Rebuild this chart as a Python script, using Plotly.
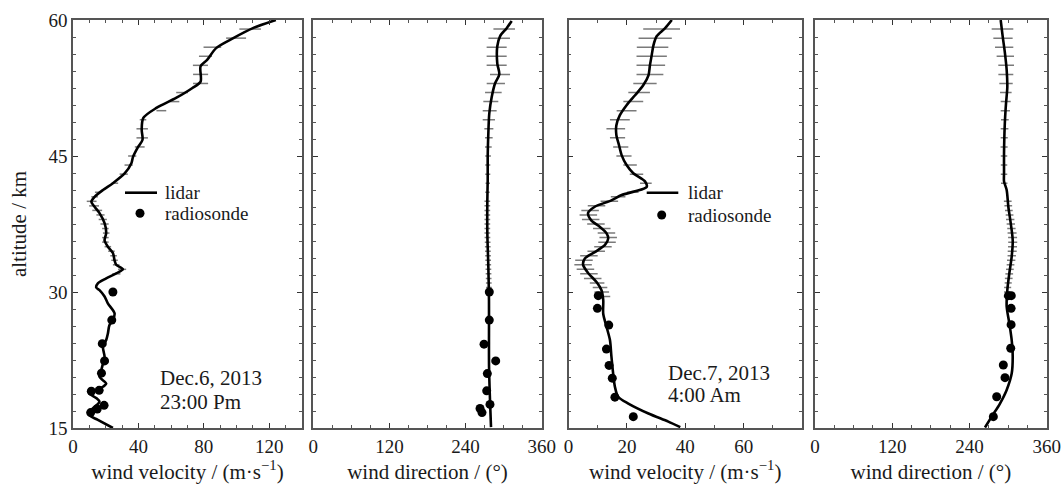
import plotly.graph_objects as go

# ---------------- Panel 1: wind velocity, Dec.6 2013 ----------------
p1_alt = [15.0, 15.9, 16.4, 17.0, 17.35, 17.9, 18.3, 18.8, 19.2, 19.55, 19.9, 20.65, 21.4, 22.1,
          22.85, 23.95, 24.7, 25.4, 26.35, 26.9, 27.65, 28.75, 29.5, 30.2, 30.5, 30.95, 31.5,
          32.05, 32.5, 33.0, 33.5, 34.3, 35.0, 35.7, 36.5, 37.6, 38.7, 39.4, 39.95, 40.5, 41.25,
          42.0, 43.1, 44.2, 44.9, 46.0, 46.8, 47.9, 49.2, 50.3, 51.4, 52.5, 53.2, 54.9, 55.6,
          56.9, 58.0, 59.1, 60.0]
p1_vel = [24.4, 15.2, 10.2, 11.2, 13.2, 16.2, 14.2, 10.2, 14.2, 18.3, 20.3, 16.2, 17.3, 18.3,
          19.3, 18.3, 20.3, 21.3, 22.3, 24.4, 25.4, 21.3, 19.3, 16.2, 14.2, 15.2, 20.3,
          26.4, 30.5, 26.4, 25.4, 24.4, 21.3, 19.3, 20.3, 19.3, 16.2, 13.2, 11.2, 13.2, 18.3,
          24.4, 31.7, 35.7, 36.7, 39.8, 42.5, 42.0, 43.0, 51.0, 63.0, 73.0, 78.0, 78.0, 82.0,
          87.5, 98.0, 110.0, 124.0]
p1_err_alt = [32.0, 32.5, 33.0, 33.5, 34.0, 34.5, 35.0, 35.5, 36.0, 36.5, 37.0, 37.5, 38.0, 38.5,
              39.0, 39.5, 40.0, 40.5, 41, 42, 43, 44, 45, 46, 47, 48, 49, 50, 51, 52, 53, 54,
              55, 56, 57, 58, 59]
p1_err_mid = [26.5, 30.0, 26.4, 25.4, 24.8, 23.5, 21.3, 19.8, 19.8, 20.3, 19.8, 19.3, 18.2, 16.8,
              14.8, 12.9, 11.4, 13.2, 14.9, 25.6, 31.0, 34.0, 36.2, 40.8, 42.3, 42.3, 42.8, 54.0,
              62.0, 66.7, 78.0, 78.0, 77.9, 81.0, 85.2, 99.7, 108.3]
p1_err_half = [2.5, 2.5, 2.0, 2.0, 2.0, 2.0, 2.0, 2.0, 2.0, 2.0, 2.0, 2.5, 2.5, 2.5,
               3.0, 3.0, 3.0, 2.0, 1.5, 2.0, 2.5, 2.5, 2.5, 3.0, 3.5, 3.5, 2.0, 3.0,
               3.0, 3.6, 4.6, 4.6, 4.6, 4.0, 5.4, 6.1, 6.6]
p1_rs_alt = [30.0, 26.9, 24.3, 22.4, 21.05, 19.05, 19.15, 17.5, 17.1, 16.7]
p1_rs_vel = [24.4, 23.7, 17.9, 19.3, 17.4, 11.2, 16.0, 19.0, 14.8, 10.8]

# ---------------- Panel 2: wind direction, Dec.6 2013 ----------------
p2_alt = [15.1, 18.1, 21.75, 25.4, 29.1, 32.8, 36.5, 40.1, 42.35, 44.9, 47.5, 49.7, 51.5, 53.0,
          54.0, 55.2, 57.1, 58.2, 59.1, 59.9]
p2_dir = [280.1, 278.5, 277.0, 276.9, 276.9, 275.9, 274.3, 274.3, 274.9, 274.9, 275.9, 277.4,
          281.2, 286.4, 293.2, 290.0, 290.0, 294.3, 304.8, 312.7]
p2_err_alt = [30.0, 30.5, 31.0, 31.5, 32.0, 32.5, 33.0, 33.5, 34.0, 34.5, 35.0, 35.5, 36.0, 36.5,
              37.0, 37.5, 38.0, 38.5, 39.0, 39.5, 40.0, 41, 42, 43, 44, 45, 46, 47, 48, 49, 50,
              51, 52, 53, 54, 55, 56, 57, 58, 59]
p2_err_mid = [276.9, 276.8, 276.6, 276.4, 276.2, 276.0, 275.8, 275.6, 275.4, 275.2, 275.0, 274.8,
              274.5, 274.3, 274.3, 274.3, 274.3, 274.3, 274.3, 274.3, 274.3, 274.5, 275.0, 275.0,
              275.0, 275.5, 275.9, 276.7, 276.7, 276.7, 278.0, 279.8, 283.8, 287.7, 294.3, 289.0,
              289.0, 289.0, 293.0, 300.9]
p2_err_half = [4.5, 4.5, 4.5, 4.5, 4.5, 4.5, 4.5, 4.5, 4.5, 4.5, 4.5, 4.5, 4.5, 4.5, 4.5, 4.5,
               4.5, 4.5, 4.5, 4.5, 4.5, 3.5, 3.5, 4.0, 4.0, 4.5, 5.3, 6.0, 7.1, 9.7, 11.0, 11.8,
               13.1, 14.4, 15.8, 15.8, 15.8, 15.8, 17.0, 17.0]
p2_rs_alt = [30.0, 26.9, 24.25, 22.4, 21.0, 19.1, 17.6, 17.15, 16.7]
p2_rs_dir = [277.4, 277.4, 269.1, 287.5, 274.3, 273.3, 278.5, 262.8, 265.9]

# ---------------- Panel 3: wind velocity, Dec.7 2013 ----------------
p3_alt = [15.1, 15.7, 16.6, 17.7, 18.45, 19.55, 21.0, 22.9, 24.7, 26.2, 27.6, 29.1, 30.2, 31.1,
          32.1, 33.0, 33.7, 34.4, 35.2, 35.9, 36.5, 37.2, 37.9, 38.7, 39.4, 40.1, 40.7, 41.1,
          41.6, 42.2, 43.1, 44.0, 45.1, 46.2, 47.3, 48.4, 49.5, 50.6, 51.7, 52.8, 53.9, 55.0,
          56.1, 57.2, 58.2, 59.1, 60.0]
p3_vel = [38.3, 34.2, 27.4, 20.5, 17.0, 15.9, 15.3, 14.7, 14.2, 13.0, 11.9, 11.9, 11.3, 9.6,
          6.7, 5.0, 5.6, 9.0, 12.5, 13.6, 13.0, 10.7, 7.8, 6.7, 9.0, 14.7, 18.2, 22.8,
          26.8, 26.2, 22.2, 19.9, 18.2, 17.3, 16.4, 16.4, 17.6, 19.9, 22.8, 25.6, 27.4, 27.9,
          28.5, 29.1, 30.2, 33.1, 35.4]
p3_err_alt = [29.5, 30.0, 30.5, 31.0, 31.5, 32.0, 32.5, 33.0, 33.5, 34.0, 34.5, 35.0, 35.5, 36.0,
              36.5, 37.0, 37.5, 38.0, 38.5, 39.0, 39.5, 40.0, 40.5, 41.0, 42, 43, 44, 45, 46, 47,
              48, 49, 50, 51, 52, 53, 54, 55, 56, 57, 58, 59]
p3_err_mid = [11.8, 11.4, 10.8, 9.8, 8.3, 7.0, 5.8, 5.0, 5.3, 7.0, 9.5, 11.8, 13.2, 13.6,
              13.0, 11.4, 9.4, 7.6, 6.8, 7.4, 9.6, 14.0, 17.0, 22.0, 26.5, 23.3, 21.1, 19.0,
              17.9, 16.8, 16.2, 17.6, 19.9, 22.2, 24.2, 26.2, 27.9, 28.2, 28.5, 28.8, 29.7, 31.9]
p3_err_half = [2.5, 2.5, 2.5, 2.5, 3.0, 3.0, 3.0, 3.0, 3.0, 3.0, 3.0, 3.0, 3.0, 3.0,
               3.0, 3.0, 3.0, 3.0, 3.0, 3.0, 3.0, 3.0, 2.5, 2.0, 2.0, 2.3, 2.3, 2.6,
               2.6, 2.6, 3.2, 3.4, 3.4, 3.4, 3.7, 4.0, 4.6, 4.9, 5.2, 5.4, 5.7, 6.3]
p3_rs_alt = [29.6, 28.2, 26.35, 23.7, 21.9, 20.5, 18.4, 16.25]
p3_rs_vel = [10.2, 9.9, 13.8, 13.0, 13.9, 15.0, 15.9, 22.2]

# ---------------- Panel 4: wind direction, Dec.7 2013 ----------------
p4_alt = [15.05, 16.25, 17.7, 19.2, 21.0, 22.85, 24.7, 26.55, 28.4, 30.2, 32.05, 33.9, 35.7,
          37.6, 39.4, 41.25, 42.2, 43.1, 45.3, 47.1, 49.0, 50.8, 52.6, 54.5, 56.3, 58.2, 60.0]
p4_dir = [264.1, 274.5, 287.4, 297.8, 305.6, 307.2, 305.6, 301.9, 297.8, 298.8, 301.9, 305.6,
          307.2, 304.1, 300.4, 297.8, 293.7, 293.7, 293.7, 294.2, 295.2, 296.8, 298.8, 297.8,
          295.2, 291.6, 288.5]
p4_err_alt = [29.5, 30.0, 30.5, 31.0, 31.5, 32.0, 32.5, 33.0, 33.5, 34.0, 34.5, 35.0, 35.5, 36.0,
              36.5, 37.0, 37.5, 38.0, 38.5, 39.0, 39.5, 40.0, 42, 43, 44, 45, 46, 47, 48, 49,
              50, 51, 52, 53, 54, 55, 56, 57, 58, 59]
p4_err_mid = [298.3, 298.7, 299.3, 300.2, 301.0, 301.8, 302.8, 303.8, 304.8, 305.7, 306.4, 306.9,
              307.2, 307.0, 306.2, 305.2, 304.3, 303.3, 302.3, 301.2, 300.3, 299.5, 294.0, 293.7,
              293.7, 293.7, 293.8, 294.0, 294.5, 295.0, 295.7, 296.3, 296.5, 296.8, 296.5, 297.0,
              295.7, 293.9, 292.1, 291.3]
p4_err_half = [5.0, 5.0, 5.5, 5.5, 6.0, 6.0, 6.0, 6.0, 6.5, 6.5, 7.0, 7.0, 7.0, 7.0,
               7.0, 6.5, 6.5, 6.5, 6.0, 6.0, 6.0, 6.0, 5.0, 5.0, 5.0, 5.0, 5.5, 5.5, 6.0, 6.0,
               7.2, 7.8, 9.0, 10.4, 11.6, 12.2, 13.5, 14.2, 15.0, 16.8]
p4_rs_alt = [29.6, 29.6, 28.2, 26.4, 23.8, 21.95, 20.55, 18.45, 16.25]
p4_rs_dir = [305.0, 300.5, 304.7, 304.7, 304.1, 292.6, 295.2, 282.3, 277.1]

# ---------------- axis / text settings ----------------
alt_range = [15, 60]
alt_ticks = [15, 30, 45, 60]
vel1_ticks = [0, 40, 80, 120]
dir_ticks = [0, 120, 240, 360]
vel3_ticks = [0, 20, 40, 60]
legend_labels = ["lidar", "radiosonde"]

FONT = "Liberation Serif, Times New Roman, serif"
LINE_C = "#000000"
ERR_C = "#7a7a7a"

fig = go.Figure()

panels = [
    ("x", "y", p1_alt, p1_vel, p1_err_alt, p1_err_mid, p1_err_half, p1_rs_alt, p1_rs_vel),
    ("x2", "y2", p2_alt, p2_dir, p2_err_alt, p2_err_mid, p2_err_half, p2_rs_alt, p2_rs_dir),
    ("x3", "y3", p3_alt, p3_vel, p3_err_alt, p3_err_mid, p3_err_half, p3_rs_alt, p3_rs_vel),
    ("x4", "y4", p4_alt, p4_dir, p4_err_alt, p4_err_mid, p4_err_half, p4_rs_alt, p4_rs_dir),
]

for xa, ya, alt, val, ealt, emid, ehalf, rsalt, rsval in panels:
    fig.add_trace(go.Scatter(
        x=emid, y=ealt, xaxis=xa, yaxis=ya, mode="markers",
        marker=dict(size=1, color="rgba(0,0,0,0)"),
        error_x=dict(type="data", array=ehalf, symmetric=True, color=ERR_C,
                     thickness=1.5, width=0),
        showlegend=False, hoverinfo="skip"))
    fig.add_trace(go.Scatter(
        x=val, y=alt, xaxis=xa, yaxis=ya, mode="lines", name=legend_labels[0],
        line=dict(color=LINE_C, width=2.6, shape="spline", smoothing=0.8),
        showlegend=False))
    fig.add_trace(go.Scatter(
        x=rsval, y=rsalt, xaxis=xa, yaxis=ya, mode="markers", name=legend_labels[1],
        marker=dict(color=LINE_C, size=9, symbol="circle"),
        showlegend=False))

W, H = 1064, 484
ML, MR, MT, MB = 73, 17, 20, 56
PW = W - ML - MR
PH = H - MT - MB


def dom(a, b):
    return [(a - ML) / PW, (b - ML) / PW]


def px(xp):
    return (xp - ML) / PW


def py(yp):
    return 1 - (yp - MT) / PH


common = dict(showline=True, linecolor="#555555", linewidth=1.5, mirror="allticks",
              ticks="inside", ticklen=5, tickwidth=1, tickcolor="#333333",
              showgrid=False, zeroline=False, automargin=False,
              tickfont=dict(family=FONT, size=19, color="#1a1a1a"))
minor_x = lambda d: dict(ticks="inside", ticklen=3, dtick=d, tick0=0, tickcolor="#555555", showgrid=False)

title_font = dict(family=FONT, size=21, color="#1a1a1a")

layout = dict(
    width=W, height=H,
    margin=dict(l=ML, r=MR, t=MT, b=MB),
    paper_bgcolor="white", plot_bgcolor="white",
    font=dict(family=FONT, color="#1a1a1a"),
    showlegend=False,
    xaxis=dict(domain=dom(73, 302), range=[0, 140], tickmode="array", tickvals=vel1_ticks,
               minor=minor_x(10), anchor="y",
               title=dict(text="wind velocity / (m·s<sup>−1</sup>)", font=title_font, standoff=14),
               **common),
    xaxis2=dict(domain=dom(313.3, 541.7), range=[0, 360], tickmode="array", tickvals=dir_ticks,
                minor=minor_x(30), anchor="y2",
                title=dict(text="wind direction / (°)", font=title_font, standoff=14),
                **common),
    xaxis3=dict(domain=dom(568.5, 802), range=[0, 80], tickmode="array", tickvals=vel3_ticks,
                minor=minor_x(10), anchor="y3",
                title=dict(text="wind velocity / (m·s<sup>−1</sup>)", font=title_font, standoff=14),
                **common),
    xaxis4=dict(domain=dom(815, 1046.7), range=[0, 360], tickmode="array", tickvals=dir_ticks,
                minor=minor_x(30), anchor="y4",
                title=dict(text="wind direction / (°)", font=title_font, standoff=14),
                **common),
)
minor_y = dict(ticks="inside", ticklen=3, dtick=1.875, tick0=15, tickcolor="#555555", showgrid=False)
layout["yaxis"] = dict(domain=[0, 1], range=alt_range, tickmode="array", tickvals=alt_ticks,
                       minor=minor_y, anchor="x",
                       title=dict(text="altitude / km", font=title_font, standoff=16), **common)
for i in (2, 3, 4):
    layout[f"yaxis{i}"] = dict(domain=[0, 1], range=alt_range, tickmode="array", tickvals=alt_ticks,
                               minor=minor_y, anchor=f"x{i}", showticklabels=False, **common)

fig.update_layout(**layout)

# ---- hand-drawn legends (lidar line + radiosonde dot) inside panels 1 and 3 ----
leg_font = dict(family=FONT, size=19, color="#1a1a1a")
for lx0, lx1, ly, dx, dy, tx in [(125, 157, 192.7, 140, 213.3, 163),
                                 (646.7, 678.3, 192.7, 661.7, 215, 685.7)]:
    fig.add_shape(type="line", xref="paper", yref="paper", x0=px(lx0), x1=px(lx1),
                  y0=py(ly), y1=py(ly), line=dict(color=LINE_C, width=2.6))
    fig.add_shape(type="circle", xref="paper", yref="paper", xsizemode="pixel",
                  ysizemode="pixel", xanchor=px(dx), yanchor=py(dy),
                  x0=-4.5, x1=4.5, y0=-4.5, y1=4.5,
                  fillcolor=LINE_C, line=dict(color=LINE_C, width=0))
    fig.add_annotation(x=px(tx), y=py(ly), xref="paper", yref="paper", text=legend_labels[0],
                       showarrow=False, xanchor="left", yanchor="middle", font=leg_font)
    fig.add_annotation(x=px(tx), y=py(dy), xref="paper", yref="paper", text=legend_labels[1],
                       showarrow=False, xanchor="left", yanchor="middle", font=leg_font)

ann_font = dict(family=FONT, size=21, color="#1a1a1a")
notes = [
    ("x", "y", 52, 20.5, "Dec.6, 2013"),
    ("x", "y", 52, 17.85, "23:00 Pm"),
    ("x3", "y3", 33.5, 21.05, "Dec.7, 2013"),
    ("x3", "y3", 33.5, 18.6, "4:00 Am"),
]
for xr, yr, xv, yv, txt in notes:
    fig.add_annotation(x=xv, y=yv, xref=xr, yref=yr, text=txt, showarrow=False,
                       xanchor="left", yanchor="middle", font=ann_font)

fig.write_html("out.html", config={"displayModeBar": False},
               post_script="document.body.style.margin='0';document.body.style.overflow='hidden';")
